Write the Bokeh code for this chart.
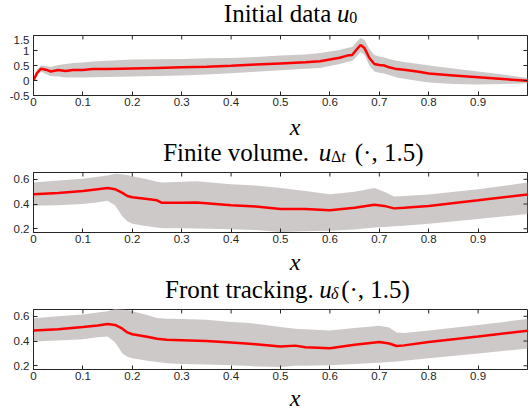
import math
from bokeh.plotting import figure
from bokeh.layouts import column
from bokeh.models import Range1d, FixedTicker
from bokeh.core.properties import value
from bokeh.embed import file_html
from bokeh.resources import INLINE

# ---------------- data ----------------
x_range_lim = (0, 1)
x_ticks = [0, 0.1, 0.2, 0.3, 0.4, 0.5, 0.6, 0.7, 0.8, 0.9]
x_tick_labels = ["0", "0.1", "0.2", "0.3", "0.4", "0.5", "0.6", "0.7", "0.8", "0.9"]
y1_lim = (-0.5, 1.5)
y1_ticks = [-0.5, 0, 0.5, 1, 1.5]
y1_tick_labels = ["-0.5", "0", "0.5", "1", "1.5"]
y2_lim = (0.17, 0.655)
y2_ticks = [0.2, 0.4, 0.6]
y2_tick_labels = ["0.2", "0.4", "0.6"]
x_label = "x"

# Initial data u0
x1 = [0, 0.007, 0.015, 0.025, 0.035, 0.05, 0.065, 0.08, 0.1, 0.12, 0.15, 0.2, 0.25, 0.3, 0.35,
      0.4, 0.45, 0.5, 0.55, 0.58, 0.6, 0.62, 0.635, 0.645, 0.655, 0.662, 0.67, 0.68, 0.69, 0.7,
      0.71, 0.72, 0.735, 0.75, 0.78, 0.8, 0.85, 0.9, 0.95, 1.0]
m1 = [0, 0.25, 0.39, 0.36, 0.30, 0.35, 0.32, 0.35, 0.35, 0.38, 0.38, 0.40, 0.42, 0.44, 0.46,
      0.49, 0.53, 0.57, 0.61, 0.64, 0.70, 0.76, 0.83, 0.85, 1.05, 1.18, 1.08, 0.75, 0.55, 0.52,
      0.50, 0.44, 0.38, 0.36, 0.29, 0.23, 0.17, 0.11, 0.05, -0.01]
hi1 = [0.05, 0.35, 0.5, 0.48, 0.45, 0.52, 0.55, 0.58, 0.6, 0.63, 0.66, 0.7, 0.71, 0.72, 0.74,
       0.75, 0.78, 0.83, 0.87, 0.92, 0.97, 1.02, 1.08, 1.12, 1.3, 1.42, 1.35, 1.05, 0.85, 0.8,
       0.77, 0.72, 0.66, 0.62, 0.55, 0.5, 0.4, 0.3, 0.2, 0.08]
lo1 = [-0.05, 0.15, 0.3, 0.22, 0.14, 0.13, 0.1, 0.1, 0.1, 0.11, 0.12, 0.13, 0.15, 0.17, 0.2,
       0.24, 0.29, 0.34, 0.39, 0.42, 0.48, 0.55, 0.62, 0.65, 0.82, 0.95, 0.85, 0.5, 0.3, 0.26,
       0.23, 0.18, 0.1, 0.06, -0.02, -0.07, -0.12, -0.13, -0.12, -0.09]

# Finite volume u_dt(., 1.5)
x2 = [0, 0.05, 0.1, 0.13, 0.15, 0.165, 0.18, 0.19, 0.2, 0.23, 0.25, 0.26, 0.3, 0.33, 0.4, 0.45,
      0.5, 0.55, 0.6, 0.65, 0.69, 0.71, 0.73, 0.75, 0.8, 0.9, 1.0]
m2 = [0.48, 0.49, 0.505, 0.52, 0.53, 0.52, 0.49, 0.465, 0.455, 0.44, 0.43, 0.41, 0.41, 0.412,
      0.39, 0.38, 0.36, 0.36, 0.35, 0.37, 0.395, 0.385, 0.365, 0.37, 0.385, 0.43, 0.478]
hi2 = [0.574, 0.59, 0.605, 0.62, 0.63, 0.645, 0.64, 0.635, 0.625, 0.6, 0.58, 0.575, 0.58, 0.585,
       0.56, 0.55, 0.53, 0.505, 0.48, 0.5, 0.53, 0.5, 0.46, 0.465, 0.478, 0.52, 0.574]
lo2 = [0.387, 0.39, 0.40, 0.415, 0.427, 0.39, 0.3, 0.26, 0.24, 0.22, 0.21, 0.205, 0.205, 0.203,
       0.197, 0.19, 0.174, 0.18, 0.185, 0.195, 0.21, 0.215, 0.22, 0.225, 0.24, 0.28, 0.32]

# Front tracking u_delta(., 1.5)
x3 = [0, 0.05, 0.1, 0.13, 0.15, 0.165, 0.18, 0.19, 0.2, 0.23, 0.25, 0.27, 0.3, 0.35, 0.4, 0.43,
      0.45, 0.5, 0.53, 0.55, 0.6, 0.65, 0.7, 0.72, 0.735, 0.75, 0.8, 0.9, 1.0]
m3 = [0.486, 0.495, 0.513, 0.525, 0.537, 0.53, 0.5, 0.47, 0.455, 0.435, 0.418, 0.41, 0.407, 0.40,
      0.388, 0.38, 0.374, 0.355, 0.363, 0.35, 0.342, 0.37, 0.393, 0.38, 0.36, 0.365, 0.393, 0.437,
      0.483]
hi3 = [0.584, 0.6, 0.614, 0.63, 0.64, 0.66, 0.655, 0.65, 0.64, 0.61, 0.586, 0.58, 0.578, 0.573,
       0.554, 0.547, 0.54, 0.513, 0.5, 0.495, 0.486, 0.505, 0.524, 0.51, 0.47, 0.465, 0.486, 0.53,
       0.578]
lo3 = [0.396, 0.405, 0.415, 0.43, 0.437, 0.39, 0.3, 0.273, 0.26, 0.24, 0.23, 0.22, 0.214, 0.21,
       0.205, 0.2, 0.195, 0.19, 0.2, 0.2, 0.205, 0.215, 0.224, 0.23, 0.235, 0.24, 0.26, 0.30, 0.34]

# title pieces: (text, x, y-offset, size, style, align)
title1 = [("Initial data", 319, 0, "25px", "normal", "right"),
          ("u", 325, 0, "25px", "italic", "left"),
          ("0", 338, -3.5, "16px", "normal", "left")]
title2 = [("Finite volume.", 295, 0, "25px", "normal", "right"),
          ("u", 305.5, 0, "25px", "italic", "left"),
          ("\u0394", 318.5, -3.5, "16px", "normal", "left"),
          ("t", 329.5, -3.5, "16px", "italic", "left"),
          ("(\u00b7, 1.5)", 344, 0, "25px", "normal", "left")]
title3 = [("Front tracking.", 300, 0, "25px", "normal", "right"),
          ("u", 306, 0, "25px", "italic", "left"),
          ("\u03b4", 318.5, -3.5, "16px", "italic", "left"),
          ("(\u00b7, 1.5)", 329.5, 0, "25px", "normal", "left")]

AX = "#262626"
BAND = "#cdc9c9"
SERIF = "Liberation Serif"
SANS = "Liberation Sans"
W = 529
XLAB_X = 280


def style_axis(ax, ticks, labels, standoff):
    ax.ticker = FixedTicker(ticks=ticks)
    ax.major_label_overrides = {t: l for t, l in zip(ticks, labels)}
    ax.minor_tick_line_color = None
    ax.major_tick_in = 4
    ax.major_tick_out = 0
    ax.major_tick_line_color = AX
    ax.axis_line_color = AX
    ax.major_label_text_color = AX
    ax.major_label_text_font = SANS
    ax.major_label_text_font_size = "11.5px"
    ax.major_label_standoff = standoff


def text_fig(h, pieces, base_y, xlabel_y=None):
    t = figure(width=W, height=h, min_border=0, x_range=Range1d(0, W), y_range=Range1d(0, h),
               output_backend="svg", toolbar_location=None)
    t.axis.visible = False
    t.grid.visible = False
    t.outline_line_color = None
    if xlabel_y is not None:
        t.text(x=[XLAB_X], y=[xlabel_y], text=[x_label], text_font=value(SERIF),
               text_font_size=value("24px"), text_font_style="italic", text_align="center",
               text_baseline="alphabetic", text_color="black")
    for txt, tx, dy, size, fstyle, align in pieces:
        t.text(x=[tx], y=[base_y + dy], text=[txt], text_font=value(SERIF),
               text_font_size=value(size), text_font_style=fstyle, text_align=align,
               text_baseline="alphabetic", text_color="black")
    return t


def make_panel(x, m, lo, hi, ylim, yticks, ylabels, h):
    p = figure(width=W, height=h, min_border_left=33, min_border_right=2,
               min_border_top=0, min_border_bottom=16,
               x_range=Range1d(*x_range_lim), y_range=Range1d(*ylim),
               output_backend="svg", toolbar_location=None)
    p.outline_line_color = AX
    p.xgrid.visible = False
    p.ygrid.visible = False
    p.varea(x=x, y1=lo, y2=hi, fill_color=BAND, fill_alpha=1.0)
    p.line(x=x, y=m, line_color="#ff0000", line_width=2.5)
    # mirrored inside ticks on the top and right edges (half of each dash is clipped)
    p.scatter(x=[x_range_lim[1]] * len(yticks), y=yticks, marker="dash", size=8,
              line_color=AX, line_width=1)
    p.scatter(x=x_ticks, y=[ylim[1]] * len(x_ticks), marker="dash", size=8, angle=math.pi / 2,
              line_color=AX, line_width=1)
    style_axis(p.xaxis[0], x_ticks, x_tick_labels, 2)
    style_axis(p.yaxis[0], yticks, ylabels, 4)
    return p


t1 = text_fig(35, title1, 22)
p1 = make_panel(x1, m1, lo1, hi1, y1_lim, y1_ticks, y1_tick_labels, 76)
t2 = text_fig(61, title2, 20, xlabel_y=46)
p2 = make_panel(x2, m2, lo2, hi2, y2_lim, y2_ticks, y2_tick_labels, 76)
t3 = text_fig(61, title3, 20, xlabel_y=48)
p3 = make_panel(x3, m3, lo3, hi3, y2_lim, y2_ticks, y2_tick_labels, 76)
t4 = text_fig(26, [], 0, xlabel_y=14)

layout = column(t1, p1, t2, p2, t3, p3, t4, spacing=0)

open("out.html", "w").write(file_html(layout, INLINE))
